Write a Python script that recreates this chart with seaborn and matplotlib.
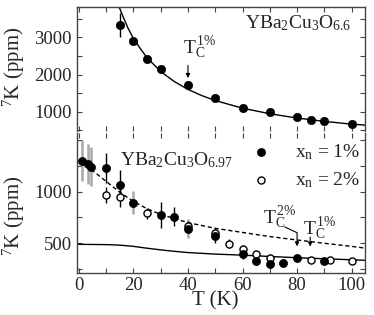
import matplotlib
matplotlib.use("Agg")
import matplotlib.pyplot as plt
import seaborn as sns
import pandas as pd
import numpy as np
from matplotlib.ticker import MultipleLocator, FixedLocator

# ---------------- data ----------------
# top panel: YBa2Cu3O6.6
T_top = [15, 20, 25, 30, 40, 50, 60, 70, 80, 85, 90, 100]
K_top = [3340, 2900, 2420, 2150, 1710, 1370, 1100, 980, 865, 790, 760, 670]
E_top = [320, 60, 60, 50, 40, 30, 30, 30, 30, 20, 20, 20]

T_fit_top = [14.3, 16, 18, 20, 22.5, 25, 30, 35, 40, 45, 50, 60, 70, 80, 90, 100, 105]
K_fit_top = [3900, 3590, 3250, 2970, 2700, 2450, 2080, 1810, 1600, 1435, 1300,
             1095, 945, 830, 740, 665, 640]

# bottom panel: YBa2Cu3O6.97
T_f = [1, 3.5, 4.5, 10, 15, 20, 30, 35, 40, 50, 60, 65, 70, 75, 80, 90]
K_f = [1300, 1266, 1242, 1227, 1065, 893, 774, 758, 642, 575, 396, 327, 300, 312, 357, 331]
E_f = [200, 195, 190, 145, 145, 110, 130, 90, 90, 70, 45, 35, 40, 25, 20, 20]

T_o = [10, 15, 25, 40, 50, 55, 60, 65, 70, 85, 92, 100]
K_o = [968, 946, 791, 668, 597, 497, 440, 393, 362, 336, 335, 330]
E_o = [80, 95, 55, 50, 50, 40, 40, 30, 30, 20, 15, 15]

T_dash = [4.5, 10, 15, 20, 25, 30, 35, 40, 50, 55, 60, 70, 80, 90, 100, 105]
K_dash = [1215, 1100, 995, 905, 835, 780, 740, 700, 645, 625, 605, 565, 532, 500, 470, 453]

T_solid = [-0.5, 10, 15, 20, 25, 30, 35, 40, 50, 60, 70, 80, 90, 100, 105]
K_solid = [490, 487, 482, 470, 452, 436, 422, 410, 395, 385, 372, 360, 350, 340, 335]

legend_labels = [r"x$_\mathrm{n}$ = 1%", r"x$_\mathrm{n}$ = 2%"]
ytick_top = [1000, 2000, 3000]
ytick_bot = [500, 1000]

# ---------------- style ----------------
sns.set_theme(style="ticks")
plt.rcParams["font.family"] = ["Liberation Serif", "DejaVu Serif"]
plt.rcParams["mathtext.fontset"] = "custom"
plt.rcParams["mathtext.rm"] = "Liberation Serif"
plt.rcParams["mathtext.it"] = "Liberation Serif:italic"
plt.rcParams["mathtext.bf"] = "Liberation Serif:bold"

fig = plt.figure(figsize=(3.74, 3.15), dpi=100)
ax1 = fig.add_axes([0.2072, 0.5841, 0.7687, 0.3937])
ax2 = fig.add_axes([0.2072, 0.1324, 0.7687, 0.4454])

spine_col = "#444444"
for ax in (ax1, ax2):
    for s in ax.spines.values():
        s.set_color(spine_col)
        s.set_linewidth(1.0)
    ax.set_xlim(-0.5, 104.9)
    ax.xaxis.set_major_locator(MultipleLocator(20))
    ax.xaxis.set_minor_locator(MultipleLocator(10))
    ax.tick_params(which="both", direction="in", top=True, right=True,
                   length=3.5, width=0.8, color=spine_col, labelsize=13.5, pad=3)

ax1.spines["bottom"].set_visible(False)
ax2.spines["top"].set_visible(False)

# ---- top panel ----
df_top = pd.DataFrame({"T": T_top, "K": K_top})
df_fit_top = pd.DataFrame({"T": T_fit_top, "K": K_fit_top})
sns.lineplot(data=df_fit_top, x="T", y="K", ax=ax1, color="black", lw=1.0, sort=False)
ax1.errorbar(T_top, K_top, yerr=E_top, fmt="none", ecolor="black", elinewidth=1.0, capsize=0)
sns.scatterplot(data=df_top, x="T", y="K", ax=ax1, color="black", s=36,
                edgecolor="black", linewidth=0.5, zorder=5)
ax1.set_ylim(481, 3815)
ax1.yaxis.set_major_locator(FixedLocator(ytick_top))
ax1.yaxis.set_minor_locator(MultipleLocator(500))
ax1.tick_params(axis="x", labelbottom=False)
ax1.tick_params(axis="y", pad=4)
ax1.set_xlabel("")
ax1.set_ylabel("")

ax1.text(61, 3250, r"$\mathrm{YBa_2Cu_3O_{6.6}}$", fontsize=14, ha="left", va="baseline")
ax1.text(38.0, 2560, r"$\mathrm{T_C^{\,1\%}}$", fontsize=14, ha="left", va="baseline")
ax1.annotate("", xy=(40, 1830), xytext=(40, 2320),
             arrowprops=dict(arrowstyle="-|>", lw=0.8, color="black", mutation_scale=6))

# ---- bottom panel ----
df_dash = pd.DataFrame({"T": T_dash, "K": K_dash})
df_solid = pd.DataFrame({"T": T_solid, "K": K_solid})
sns.lineplot(data=df_dash, x="T", y="K", ax=ax2, color="black", lw=1.0,
             linestyle=(0, (3, 2)))
sns.lineplot(data=df_solid, x="T", y="K", ax=ax2, color="black", lw=1.0)

gray_idx = [0, 1, 2, 5, 8]
for i, (t, k, e) in enumerate(zip(T_f, K_f, E_f)):
    if i in gray_idx:
        ax2.errorbar([t], [k], yerr=[e], fmt="none", ecolor="#a8a8a8", elinewidth=1.8, capsize=0)
    else:
        ax2.errorbar([t], [k], yerr=[e], fmt="none", ecolor="black", elinewidth=1.0, capsize=0)
ax2.errorbar(T_o, K_o, yerr=E_o, fmt="none", ecolor="black", elinewidth=1.0, capsize=0)

df_f = pd.DataFrame({"T": T_f, "K": K_f})
df_o = pd.DataFrame({"T": T_o, "K": K_o})
sns.scatterplot(data=df_o, x="T", y="K", ax=ax2, facecolor="white", edgecolor="black",
                s=26, linewidth=1.0, zorder=5, label=legend_labels[1])
sns.scatterplot(data=df_f, x="T", y="K", ax=ax2, color="black", edgecolor="black",
                s=34, linewidth=0.5, zorder=6, label=legend_labels[0])
ax2.set_ylim(209, 1569)
ax2.yaxis.set_major_locator(FixedLocator(ytick_bot))
ax2.yaxis.set_minor_locator(FixedLocator([250, 750, 1250, 1500]))
ax2.tick_params(axis="y", pad=4)
ax2.tick_params(axis="x", pad=2.5)
ax2.set_xlabel("")
ax2.set_ylabel("")

h, l = ax2.get_legend_handles_labels()
order = [l.index(legend_labels[0]), l.index(legend_labels[1])]
ax2.legend([h[i] for i in order], [l[i] for i in order], loc="upper right",
           bbox_to_anchor=(1.03, 1.03), frameon=False, fontsize=14,
           handletextpad=1.0, labelspacing=0.4, borderaxespad=0.3, handlelength=1.5)

ax2.text(15, 1259, r"$\mathrm{YBa_2Cu_3O_{6.97}}$", fontsize=14, ha="left", va="baseline")
ax2.text(67.5, 694, r"$\mathrm{T_C^{\,2\%}}$", fontsize=14, ha="left", va="baseline")
ax2.annotate("", xy=(80, 470), xytext=(75.5, 658),
             arrowprops=dict(arrowstyle="-|>", lw=0.8, color="black", mutation_scale=6,
                             shrinkA=0, shrinkB=0,
                             connectionstyle="angle,angleA=-25,angleB=90,rad=0"))
ax2.text(82.1, 580, r"$\mathrm{T_C^{\,1\%}}$", fontsize=14, ha="left", va="baseline")
ax2.annotate("", xy=(84.8, 468), xytext=(84.8, 560),
             arrowprops=dict(arrowstyle="-|>", lw=0.8, color="black", mutation_scale=6,
                             shrinkA=0, shrinkB=0))

fig.text(14 / 374, 1 - 67 / 315, r"$^{7}$K (ppm)", rotation=90, fontsize=15,
         ha="center", va="center")
fig.text(14 / 374, 1 - 216 / 315, r"$^{7}$K (ppm)", rotation=90, fontsize=15,
         ha="center", va="center")
fig.text(215 / 374, 1 - 301 / 315, "T (K)", fontsize=15, ha="center", va="center")

fig.savefig("out.png", dpi=100)
